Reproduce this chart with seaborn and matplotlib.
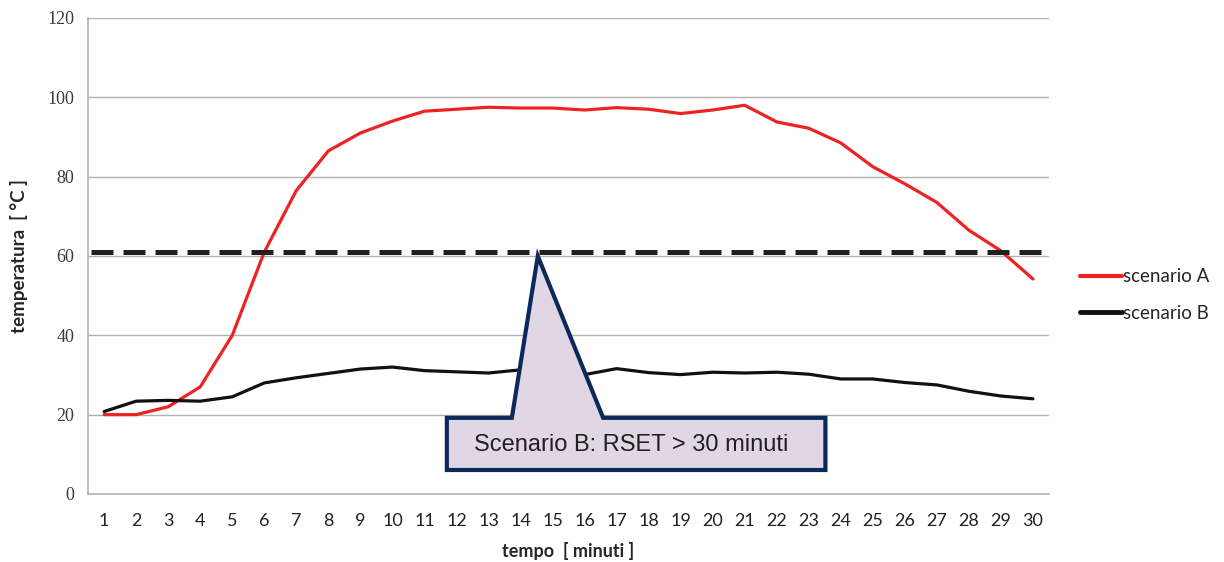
import matplotlib
matplotlib.use("Agg")
import matplotlib.pyplot as plt
import numpy as np
import pandas as pd
import seaborn as sns
from matplotlib.patches import Polygon

# minuti sull'asse x
minuti = list(range(1, 31))

# temperature [°C]
scenario_a = [20, 20, 22, 27, 40, 61, 76.5, 86.5, 91, 94,
              96.5, 97, 97.5, 97.3, 97.3, 96.8, 97.4, 97, 95.9, 96.8,
              98, 93.8, 92.2, 88.5, 82.5, 78.2, 73.5, 66.5, 61.3, 54.2]
scenario_b = [20.8, 23.4, 23.6, 23.4, 24.5, 28, 29.3, 30.4, 31.5, 32,
              31.1, 30.8, 30.5, 31.3, 30.8, 30.1, 31.6, 30.6, 30.1, 30.7,
              30.5, 30.7, 30.2, 29, 29, 28.1, 27.5, 25.9, 24.7, 24]
soglia = 61

etichetta_callout = "Scenario B: RSET > 30 minuti"

df = pd.DataFrame({
    "idx": list(range(len(minuti))) * 2,
    "temperatura": scenario_a + scenario_b,
    "scenario": ["scenario A"] * len(minuti) + ["scenario B"] * len(minuti),
})

sns.set_style("white")
plt.rcParams["font.family"] = ["Liberation Sans", "DejaVu Sans"]
narrow = ["Lato", "Liberation Sans"]

fig = plt.figure(figsize=(12.24, 5.62), dpi=100)
ax = fig.add_axes([0.072, 0.121, 0.785, 0.847])

grid_col = "#b0b0b0"
for y in range(20, 121, 20):
    ax.axhline(y, color=grid_col, lw=1.0, zorder=0)

sns.lineplot(data=df, x="idx", y="temperatura", hue="scenario",
             palette={"scenario A": "#ee2222", "scenario B": "#111111"},
             linewidth=2.3, ax=ax, legend=False, zorder=3)

ax.axhline(soglia, color="#231f20", lw=3.6, dashes=(4.4, 2.0), zorder=4,
           xmin=0.003, xmax=0.995)

ax.set_xlim(-0.5, len(minuti) - 0.5)
ax.set_ylim(0, 120)
ax.set_yticks(range(0, 121, 20))
ax.set_yticklabels([str(v) for v in range(0, 121, 20)],
                   family=["Liberation Serif"], fontsize=13, color="#3a3a3a")

ax.set_xticks(np.arange(-0.5, len(minuti), 1.0))
ax.set_xticklabels([])
ax.set_xticks(range(len(minuti)), minor=True)
ax.set_xticklabels([str(m) for m in minuti], minor=True,
                   family=narrow, fontsize=13, color="#222222")
ax.tick_params(axis="x", which="major", length=7, width=1, color=grid_col,
               direction="out")
ax.tick_params(axis="x", which="minor", length=0, pad=14)
ax.tick_params(axis="y", length=6, width=1, color=grid_col, direction="out", pad=4)

for side in ["top", "right"]:
    ax.spines[side].set_visible(False)
for side in ["left", "bottom"]:
    ax.spines[side].set_color(grid_col)
    ax.spines[side].set_linewidth(1.2)

ax.set_xlabel("tempo  [ minuti ]", fontweight="bold", fontsize=13,
              family=narrow, labelpad=9)
ax.set_ylabel("temperatura  [ °C ]", fontweight="bold", fontsize=13.5,
              family=narrow, labelpad=14)

# fumetto con la nota
callout = Polygon([(10.70, 6.05), (10.70, 19.2), (12.73, 19.2), (13.54, 60.0),
                   (15.58, 19.2), (22.52, 19.2), (22.52, 6.05)],
                  closed=True, facecolor="#e1d6e4", edgecolor="#0b2a5b",
                  linewidth=3.0, zorder=5, joinstyle="miter")
ax.add_patch(callout)
ax.text(16.45, 12.4, etichetta_callout, ha="center", va="center",
        fontsize=17, color="#231f20", zorder=6)

handles = [plt.Line2D([], [], color="#ee2222", lw=3),
           plt.Line2D([], [], color="#111111", lw=3.5)]
fig.legend(handles, ["scenario A", "scenario B"], loc="center left",
           bbox_to_anchor=(0.882, 0.475), frameon=False, handlelength=2.25,
           handletextpad=0.05, labelspacing=1.05, borderaxespad=0, borderpad=0,
           prop={"family": narrow, "size": 13.5})

fig.savefig("out.png", dpi=100)
